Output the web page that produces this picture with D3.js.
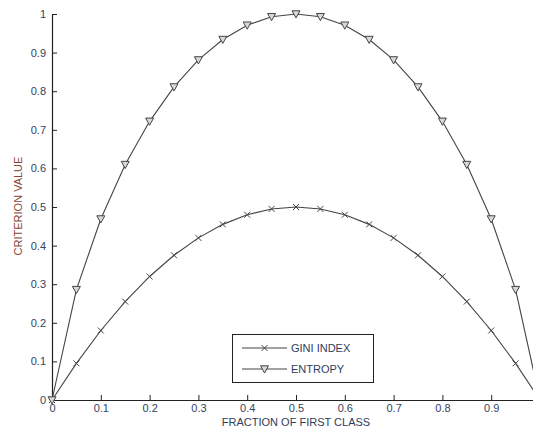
<!DOCTYPE html>
<html>
<head>
<meta charset="utf-8">
<script src="https://cdn.jsdelivr.net/npm/d3@7"></script>
<style>
  body { margin: 0; background: #fff; }
  svg { display: block; font-family: "Liberation Sans", Arial, sans-serif; }
</style>
</head>
<body>
<div id="chart"></div>
<script>
// fraction of first class
let fractions = [0, 0.05, 0.1, 0.15, 0.2, 0.25, 0.3, 0.35, 0.4, 0.45, 0.5,
                 0.55, 0.6, 0.65, 0.7, 0.75, 0.8, 0.85, 0.9, 0.95, 1];
let giniValues = [0, 0.095, 0.18, 0.255, 0.32, 0.375, 0.42, 0.455, 0.48, 0.495, 0.5,
                  0.495, 0.48, 0.455, 0.42, 0.375, 0.32, 0.255, 0.18, 0.095, 0];
let entropyValues = [0, 0.286, 0.469, 0.61, 0.722, 0.811, 0.881, 0.934, 0.971, 0.993, 1,
                     0.993, 0.971, 0.934, 0.881, 0.811, 0.722, 0.61, 0.469, 0.286, 0];
let xTicks = [0, 0.1, 0.2, 0.3, 0.4, 0.5, 0.6, 0.7, 0.8, 0.9];
let yTicks = [0, 0.1, 0.2, 0.3, 0.4, 0.5, 0.6, 0.7, 0.8, 0.9, 1];
let seriesNames = ["GINI INDEX", "ENTROPY"];

let width = 533;
let height = 427;
let margin = { left: 52, bottom: 400, top: 14, right: 540 };

let svg = d3.select("#chart").append("svg")
    .attr("width", width)
    .attr("height", height);

let x = d3.scaleLinear().domain([0, 1]).range([margin.left, margin.right]);
let y = d3.scaleLinear().domain([0, 1]).range([margin.bottom, margin.top]);

let tickColor = "#34425f";

// axes
let gx = svg.append("g").attr("transform", `translate(0, ${margin.bottom})`)
    .call(d3.axisBottom(x).tickValues(xTicks).tickSize(-5).tickSizeOuter(0)
        .tickFormat(d => d3.format("")(d)));
gx.select(".domain").attr("stroke", "#222").attr("stroke-width", 1.2);
gx.selectAll(".tick line").attr("stroke", "#222");
gx.selectAll(".tick text").attr("y", 4).attr("dy", "0.71em")
    .attr("font-size", 11).attr("fill", tickColor)
    .attr("font-family", "Liberation Sans, Arial, sans-serif");

let gy = svg.append("g").attr("transform", `translate(${margin.left}, 0)`)
    .call(d3.axisLeft(y).tickValues(yTicks).tickSize(-5).tickSizeOuter(0)
        .tickFormat(d => d3.format("")(d)));
gy.select(".domain").attr("stroke", "#222").attr("stroke-width", 1.2);
gy.selectAll(".tick line").attr("stroke", "#222");
gy.selectAll(".tick text").attr("x", -6)
    .attr("font-size", 11).attr("fill", tickColor)
    .attr("font-family", "Liberation Sans, Arial, sans-serif");

// axis titles
svg.append("text")
    .attr("transform", `translate(22, 206) rotate(-90)`)
    .attr("text-anchor", "middle")
    .attr("font-size", 11)
    .attr("fill", "#8a4534")
    .text("CRITERION VALUE");

svg.append("text")
    .attr("x", 296).attr("y", 426)
    .attr("text-anchor", "middle")
    .attr("font-size", 11)
    .attr("fill", "#2f3d5c")
    .text("FRACTION OF FIRST CLASS");

let lineColor = "#444";
let line = d3.line().x(d => x(d[0])).y(d => y(d[1]));

function drawCross(g, cx, cy) {
    let s = 3;
    g.append("path")
        .attr("d", `M${cx - s},${cy - s}L${cx + s},${cy + s}M${cx - s},${cy + s}L${cx + s},${cy - s}`)
        .attr("stroke", lineColor).attr("stroke-width", 1);
}
function drawTriangle(g, cx, cy) {
    let s = 4;
    g.append("path")
        .attr("d", `M${cx - s},${cy - s * 0.8}L${cx + s},${cy - s * 0.8}L${cx},${cy + s}Z`)
        .attr("fill", "#d8d8d8").attr("stroke", lineColor).attr("stroke-width", 1);
}

let plot = svg.append("g");

let giniData = fractions.map((f, i) => [f, giniValues[i]]);
let entropyData = fractions.map((f, i) => [f, entropyValues[i]]);

plot.append("path").datum(giniData).attr("d", line)
    .attr("fill", "none").attr("stroke", lineColor).attr("stroke-width", 1.1);
plot.append("path").datum(entropyData).attr("d", line)
    .attr("fill", "none").attr("stroke", lineColor).attr("stroke-width", 1.1);

giniData.forEach(d => drawCross(plot, x(d[0]), y(d[1])));
entropyData.forEach(d => drawTriangle(plot, x(d[0]), y(d[1])));

// legend
let legend = svg.append("g");
legend.append("rect")
    .attr("x", 232.5).attr("y", 334.5).attr("width", 141).attr("height", 48)
    .attr("fill", "#fff").attr("stroke", "#222").attr("stroke-width", 1);

seriesNames.forEach((name, i) => {
    let ly = 348 + i * 21;
    legend.append("line")
        .attr("x1", 242).attr("x2", 287).attr("y1", ly).attr("y2", ly)
        .attr("stroke", lineColor).attr("stroke-width", 1.1);
    if (i === 0) drawCross(legend, 264.5, ly);
    else drawTriangle(legend, 264.5, ly);
    legend.append("text")
        .attr("x", 291).attr("y", ly).attr("dy", "0.35em")
        .attr("font-size", 11).attr("fill", "#2f3d5c")
        .text(name);
});
</script>
</body>
</html>
